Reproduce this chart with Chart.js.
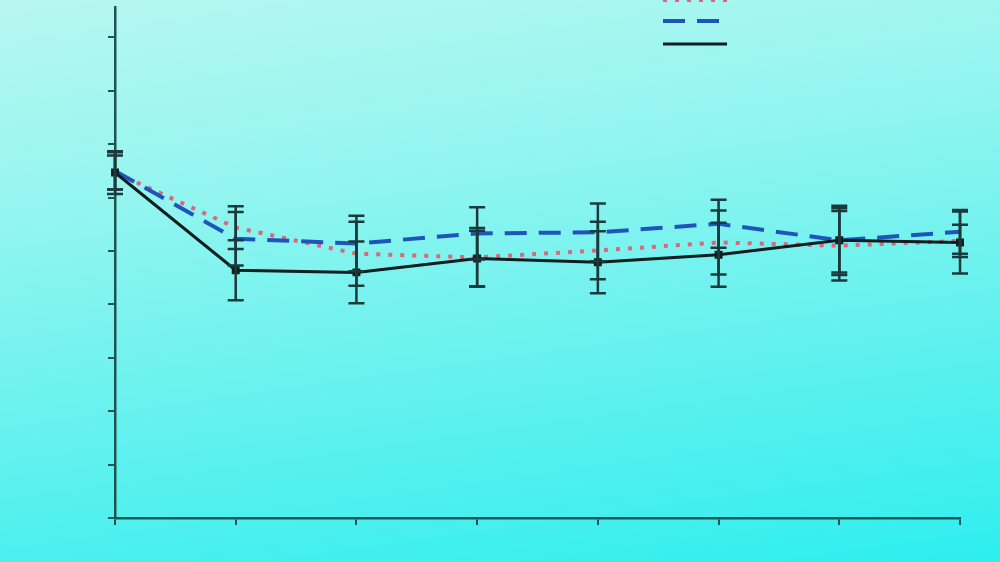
<!DOCTYPE html>
<html>
<head>
<meta charset="utf-8">
<script src="https://cdn.jsdelivr.net/npm/chart.js@4.4.1/dist/chart.umd.min.js"></script>
<style>
    html, body { margin: 0; padding: 0; }
    body {
        width: 1000px;
        height: 562px;
        overflow: hidden;
        background: linear-gradient(172deg, #b8f7f0 0%, #95f5f0 30%, #62f1ee 65%, #2eeeee 100%);
    }
    #wrap { position: relative; width: 1000px; height: 562px; }
</style>
</head>
<body>
<div id="wrap"><canvas id="Chart1"></canvas></div>
<script>
// x categories and y ticks
let weeks = ['0', '1', '2', '3', '4', '5', '6', '7'];
let yTicks = [0, 1, 2, 3, 4, 5, 6, 7, 8, 9];

// series values and their error bars
let solidLine = [6.47, 4.64, 4.60, 4.86, 4.79, 4.93, 5.20, 5.16];
let solidErr = [0.32, 0.56, 0.58, 0.52, 0.58, 0.60, 0.65, 0.58];
let dashedLine = [6.50, 5.23, 5.14, 5.33, 5.35, 5.51, 5.20, 5.36];
let dashedErr = [0.35, 0.50, 0.52, 0.49, 0.54, 0.45, 0.60, 0.41];
let dottedLine = [6.47, 5.44, 4.95, 4.88, 5.01, 5.16, 5.10, 5.19];
let dottedErr = [0.40, 0.40, 0.60, 0.55, 0.54, 0.60, 0.65, 0.30];

let axisColor = '#1d5555';

// error bars drawn from each dataset's errors array
const errorBars = {
    id: 'errorBars',
    afterDatasetsDraw(chart) {
        let ctx = chart.ctx;
        let y = chart.scales.y;
        ctx.save();
        ctx.strokeStyle = '#1b3a3c';
        ctx.lineWidth = 2.5;
        chart.data.datasets.forEach((ds, i) => {
            let meta = chart.getDatasetMeta(i);
            meta.data.forEach((pt, j) => {
                let top = y.getPixelForValue(ds.data[j] + ds.errors[j]);
                let bottom = y.getPixelForValue(ds.data[j] - ds.errors[j]);
                ctx.beginPath();
                ctx.moveTo(pt.x, top);
                ctx.lineTo(pt.x, bottom);
                ctx.moveTo(pt.x - 8, top);
                ctx.lineTo(pt.x + 8, top);
                ctx.moveTo(pt.x - 8, bottom);
                ctx.lineTo(pt.x + 8, bottom);
                ctx.stroke();
            });
        });
        ctx.restore();
    }
};

// legend samples (no text in the original)
const lineKey = {
    id: 'lineKey',
    afterDraw(chart) {
        let ctx = chart.ctx;
        let rows = [0, 21, 44];
        let order = [2, 1, 0];
        ctx.save();
        order.forEach((idx, r) => {
            let ds = chart.data.datasets[idx];
            ctx.strokeStyle = ds.borderColor;
            ctx.lineWidth = ds.borderWidth;
            ctx.setLineDash(ds.borderDash || []);
            ctx.beginPath();
            ctx.moveTo(663, rows[r]);
            ctx.lineTo(727, rows[r]);
            ctx.stroke();
        });
        ctx.restore();
    }
};

window.onload = () => {
    chart1();
}

// chart 1
function chart1() {
    let chart = document.getElementById('Chart1').getContext('2d');

    let lineChart = new Chart(chart, {
        type: 'line',
        data: {
            labels: weeks,
            datasets: [{
                label: 'solid',
                data: solidLine,
                errors: solidErr,
                borderColor: '#101e20',
                backgroundColor: '#101e20',
                borderWidth: 3,
                pointRadius: 3.5,
                pointStyle: 'rect',
                tension: 0,
                order: 0
            }, {
                label: 'dashed',
                data: dashedLine,
                errors: dashedErr,
                borderColor: '#1f55b8',
                backgroundColor: '#1f55b8',
                borderWidth: 4,
                borderDash: [22, 12],
                pointRadius: 0,
                tension: 0,
                order: 1
            }, {
                label: 'dotted',
                data: dottedLine,
                errors: dottedErr,
                borderColor: '#d8687a',
                backgroundColor: '#d8687a',
                borderWidth: 4,
                borderDash: [4, 8],
                pointRadius: 0,
                tension: 0,
                order: 2
            }]
        },
        options: {
            responsive: true,
            maintainAspectRatio: false,
            animation: false,
            layout: {
                padding: { left: 108, right: 40, top: 0, bottom: 37 }
            },
            plugins: {
                legend: { display: false },
                tooltip: { enabled: false }
            },
            scales: {
                x: {
                    type: 'category',
                    offset: false,
                    grid: {
                        offset: false,
                        drawOnChartArea: false,
                        color: axisColor,
                        lineWidth: 2,
                        tickLength: 7
                    },
                    border: { display: true, color: axisColor, width: 2.5 },
                    ticks: { display: false }
                },
                y: {
                    min: 0,
                    max: 9.57,
                    afterBuildTicks: (axis) => {
                        axis.ticks = yTicks.map(v => ({ value: v }));
                    },
                    grid: {
                        drawOnChartArea: false,
                        color: axisColor,
                        lineWidth: 2,
                        tickLength: 7
                    },
                    border: { display: true, color: axisColor, width: 2.5 },
                    ticks: { display: false }
                }
            }
        },
        plugins: [errorBars, lineKey]
    });
}
</script>
</body>
</html>
